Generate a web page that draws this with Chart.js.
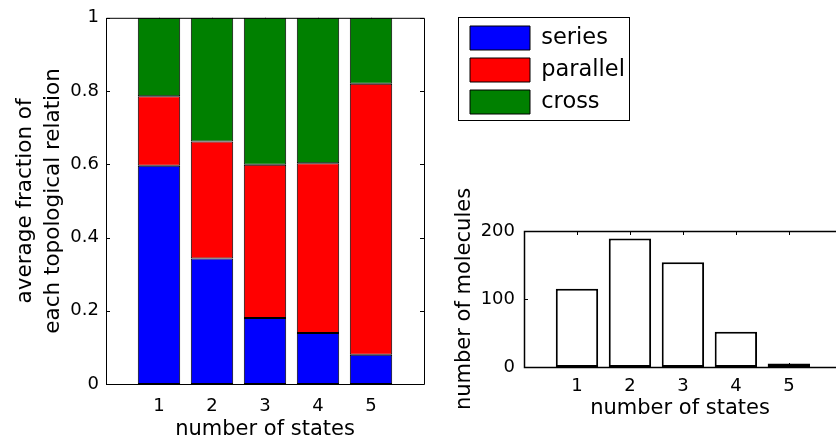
<!DOCTYPE html>
<html>
<head>
<meta charset="utf-8">
<script src="https://cdn.jsdelivr.net/npm/chart.js@4.4.0/dist/chart.umd.min.js"></script>
<style>
html, body { margin: 0; padding: 0; background: #fff; overflow: hidden; }
#wrap { position: relative; width: 836px; height: 438px; overflow: hidden; }
#fracChart { position: absolute; left: 0; top: 0; }
#countChart { position: absolute; left: 440px; top: 170px; }
</style>
</head>
<body>
<div id="wrap">
  <canvas id="fracChart" width="836" height="438"></canvas>
  <canvas id="countChart" width="396" height="268"></canvas>
</div>
<script>
// Data
const states = [1, 2, 3, 4, 5];
const seriesFrac = [0.596, 0.343, 0.180, 0.139, 0.080];
const parallelFrac = [0.190, 0.319, 0.419, 0.464, 0.740];
const crossFrac = [0.214, 0.338, 0.401, 0.397, 0.180];
const moleculeCounts = [115, 189, 154, 52, 5];

const FONT = "'DejaVu Sans', 'Liberation Sans', Arial, sans-serif";
Chart.defaults.color = '#000';
Chart.defaults.font.family = FONT;

const toPoints = vals => states.map((s, i) => ({ x: s, y: vals[i] }));
const stateLabel = v => (v >= 1 && v <= 5) ? String(v) : '';

// MATLAB-like box with inward tick marks
const matlabAxes = {
    id: 'matlabAxes',
    beforeDatasetsDraw(chart, args, opts) {
        const { ctx, chartArea: a, scales: { x, y } } = chart;
        const len = 4;
        ctx.save();
        ctx.strokeStyle = '#000';
        ctx.lineWidth = 1;
        ctx.beginPath();
        x.ticks.forEach(t => {
            if (t.value < 1 || t.value > 5) return;
            const px = Math.round(x.getPixelForValue(t.value)) + 0.5;
            ctx.moveTo(px, a.bottom); ctx.lineTo(px, a.bottom - len);
            ctx.moveTo(px, a.top); ctx.lineTo(px, a.top + len);
        });
        y.ticks.forEach(t => {
            const py = Math.round(y.getPixelForValue(t.value)) + 0.5;
            ctx.moveTo(a.left, py); ctx.lineTo(a.left + len, py);
            if (!opts.openRight) {
                ctx.moveTo(a.right, py); ctx.lineTo(a.right - len, py);
            }
        });
        ctx.stroke();
        ctx.restore();
    },
    afterDatasetsDraw(chart, args, opts) {
        const { ctx, chartArea: a } = chart;
        const l = a.left + 0.5, t = a.top + 0.5, b = a.bottom + 0.5;
        const r = opts.openRight ? chart.width + 2 : a.right + 0.5;
        ctx.save();
        ctx.strokeStyle = '#000';
        ctx.lineWidth = opts.lineWidth || 1;
        ctx.beginPath();
        ctx.moveTo(r, t); ctx.lineTo(l, t); ctx.lineTo(l, b); ctx.lineTo(r, b);
        if (!opts.openRight) ctx.closePath();
        ctx.stroke();
        ctx.restore();
    }
};

// Moves the legend next to the left plot and draws its frame
const legendBox = {
    id: 'legendBox',
    afterLayout(chart, args, opts) {
        const lg = chart.legend;
        const w = lg.width, h = lg.height;
        lg.left = opts.left; lg.top = opts.top;
        lg.right = lg.left + w; lg.bottom = lg.top + h;
    },
    afterDraw(chart, args, opts) {
        const ctx = chart.ctx;
        ctx.save();
        ctx.strokeStyle = '#000';
        ctx.lineWidth = 1;
        ctx.strokeRect(458.5, 17.5, 171, 103);
        ctx.restore();
    }
};

function initializeFractionChart() {
    const ctx = document.getElementById('fracChart');
    const bar = (label, vals, color) => ({
        label: label,
        data: toPoints(vals),
        backgroundColor: color,
        borderColor: '#000',
        borderWidth: 1,
        borderSkipped: false,
        barPercentage: 0.8,
        categoryPercentage: 1.0
    });

    new Chart(ctx, {
        type: 'bar',
        data: {
            datasets: [
                bar('series', seriesFrac, '#0000ff'),
                bar('parallel', parallelFrac, '#ff0000'),
                bar('cross', crossFrac, '#008000')
            ]
        },
        options: {
            responsive: false,
            animation: false,
            layout: { padding: { top: 17, right: 412, bottom: 0, left: 0 } },
            plugins: {
                tooltip: { enabled: false },
                legend: {
                    display: true,
                    position: 'chartArea',
                    align: 'start',
                    labels: {
                        boxWidth: 60,
                        boxHeight: 24,
                        padding: 8,
                        color: '#000',
                        font: { size: 22.5, family: FONT }
                    }
                },
                legendBox: { left: 462, top: 18 },
                matlabAxes: { lineWidth: 1 }
            },
            scales: {
                x: {
                    type: 'linear',
                    stacked: true,
                    offset: false,
                    min: 0,
                    max: 6,
                    grid: { display: false, drawTicks: false },
                    border: { display: false },
                    ticks: {
                        stepSize: 1,
                        autoSkip: false,
                        maxRotation: 0,
                        padding: 12,
                        font: { size: 18 },
                        callback: stateLabel
                    },
                    title: {
                        display: true,
                        text: 'number of states',
                        font: { size: 21, lineHeight: 0.8 },
                        padding: { top: 0, bottom: 0 }
                    },
                    afterFit: s => { s.height = 54; }
                },
                y: {
                    stacked: true,
                    min: 0,
                    max: 1,
                    grid: { display: false, drawTicks: false },
                    border: { display: false },
                    ticks: {
                        stepSize: 0.2,
                        padding: 7,
                        font: { size: 18 },
                        callback: v => String(Math.round(v * 10) / 10)
                    },
                    title: {
                        display: true,
                        text: ['average fraction of', 'each topological relation'],
                        font: { size: 21.5, lineHeight: 1.3 },
                        padding: { top: 11, bottom: 0 }
                    },
                    afterFit: s => { s.width = 106; }
                }
            }
        },
        plugins: [matlabAxes, legendBox]
    });
}

function initializeCountChart() {
    const ctx = document.getElementById('countChart');

    new Chart(ctx, {
        type: 'bar',
        data: {
            datasets: [{
                label: 'molecules',
                data: toPoints(moleculeCounts),
                backgroundColor: '#fff',
                borderColor: '#000',
                borderWidth: 2,
                borderSkipped: false,
                barPercentage: 0.8,
                categoryPercentage: 1.0
            }]
        },
        options: {
            responsive: false,
            animation: false,
            layout: { padding: { top: 61, right: 0, bottom: 0, left: 0 } },
            plugins: {
                tooltip: { enabled: false },
                legend: { display: false },
                matlabAxes: { lineWidth: 1.5, openRight: true }
            },
            scales: {
                x: {
                    type: 'linear',
                    offset: false,
                    min: 0,
                    max: 5.89,   // the figure cuts this axis off at its right edge
                    grid: { display: false, drawTicks: false },
                    border: { display: false },
                    ticks: {
                        stepSize: 1,
                        includeBounds: false,
                        autoSkip: false,
                        maxRotation: 0,
                        padding: 9,
                        font: { size: 18 },
                        callback: stateLabel
                    },
                    title: {
                        display: true,
                        text: 'number of states',
                        font: { size: 21, lineHeight: 0.8 },
                        padding: { top: 0, bottom: 21 }
                    },
                    afterFit: s => { s.height = 71; }
                },
                y: {
                    min: 0,
                    max: 200,
                    grid: { display: false, drawTicks: false },
                    border: { display: false },
                    ticks: { stepSize: 100, padding: 9, font: { size: 18 } },
                    title: {
                        display: true,
                        text: 'number of molecules',
                        font: { size: 21, lineHeight: 1.1 },
                        padding: { top: 12.5, bottom: 0 }
                    },
                    afterFit: s => { s.width = 84; }
                }
            }
        },
        plugins: [matlabAxes]
    });
}

initializeFractionChart();
initializeCountChart();
</script>
</body>
</html>
